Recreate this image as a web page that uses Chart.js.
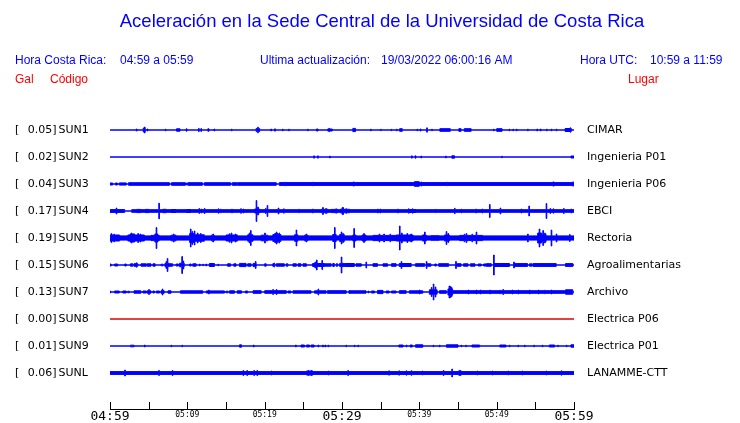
<!DOCTYPE html>
<html>
<head>
<meta charset="utf-8">
<script src="https://cdn.jsdelivr.net/npm/chart.js@4.4.0/dist/chart.umd.min.js"></script>
<style>
  html, body { margin: 0; padding: 0; background: #fff; }
  #wrap { width: 740px; height: 423px; }
</style>
</head>
<body>
<div id="wrap"><canvas id="sismo" width="740" height="423"></canvas></div>
<script>
// estaciones
const codes = ['SUN1', 'SUN2', 'SUN3', 'SUN4', 'SUN5', 'SUN6', 'SUN7', 'SUN8', 'SUN9', 'SUNL'];
const gal = [0.05, 0.02, 0.04, 0.17, 0.19, 0.15, 0.13, 0.00, 0.01, 0.06];
const places = ['CIMAR', 'Ingenieria P01', 'Ingenieria P06', 'EBCI', 'Rectoria',
  'Agroalimentarias', 'Archivo', 'Electrica P06', 'Electrica P01', 'LANAMME-CTT'];
const timeLabels = ['04:59', '05:09', '05:19', '05:29', '05:39', '05:49', '05:59'];

// envolvente de cada traza: [minuto, amplitud] o [inicio, fin, amplitud] (minutos desde 04:59)
const sun1 = [[3.4, 3.5, 1], [4.3, 4.55, 2], [4.45, 3], [4.8, 4.9, 1], [7.15, 0.8], [8.6, 9.05, 1.2],
  [9.85, 9.95, 1.2], [11.45, 1.6], [11.75, 1.4], [12.65, 12.8, 1.2], [13.45, 1], [15.7, 0.8],
  [18.9, 19.35, 1.6], [19.1, 2.8], [20.8, 1], [21.3, 1.2], [22.3, 0.8], [23.1, 0.8], [25.55, 0.8],
  [26.7, 26.9, 1], [28.15, 28.75, 1], [28.3, 1.6], [31.4, 31.75, 1.6], [33.7, 0.8], [35, 0.7],
  [36.35, 0.7], [37.05, 0.8], [37.45, 37.8, 1.3], [39.7, 0.8], [40.1, 40.2, 1], [40.95, 2.2],
  [41.6, 0.8], [42.65, 44.0, 1.3], [45.1, 45.4, 1.3], [45.8, 46.7, 1.3], [49.6, 0.8], [50.0, 50.7, 1.3],
  [51.6, 0.8], [52.1, 0.8], [52.55, 0.8], [54.0, 0.8], [55.2, 1], [55.65, 1], [56.45, 0.8],
  [57.05, 0.8], [57.7, 0.8], [58.85, 59.65, 1.5], [59.5, 2.2]];
const sun2 = [[26.35, 1.2], [26.85, 1.2], [28.4, 1], [39.0, 1.2], [39.45, 39.55, 1.2], [40.2, 1],
  [43.4, 1], [44.2, 44.55, 1.2], [50.65, 0.8], [59.6, 60, 1]];
const sun3 = [[0, 0.35, 1], [0.7, 0.95, 1], [1.2, 2.1, 1.1], [2.4, 7.7, 1.3], [7.95, 9.75, 1.3],
  [10.05, 11.95, 1.3], [12.2, 15.6, 1.3], [15.8, 21.5, 1.3], [21.9, 60, 1.4], [9.85, 1], [16.4, 1],
  [22.6, 1.8], [26.2, 1.8], [31.45, 31.6, 2], [39.35, 40.0, 2.3], [40.25, 40.35, 2], [43.55, 1.8],
  [57.25, 57.45, 2], [59.7, 60, 1.8]];
const sun4 = [[0, 1.9, 1.4], [0.8, 3], [2.8, 60, 1.3], [3.4, 4.0, 1.6], [4.5, 5.1, 1.6], [6.31, 7.8],
  [6.8, 7.3, 1.7], [7.9, 8.55, 1.5], [9.85, 10.5, 1.5], [11.5, 2.4], [11.8, 2], [12.2, 2.5],
  [14.0, 2.2], [14.3, 1.8], [15.6, 15.9, 1.6], [16.9, 2.3], [17.2, 2], [18.7, 19.35, 2], [18.9, 10.5],
  [19.1, 4], [20.32, 5.5], [20.1, 2.5], [21.75, 3], [22.45, 2.2], [24.4, 1.8], [26.2, 2],
  [27.3, 28.2, 1.7], [27.5, 3.5], [27.9, 2.5], [28.6, 29.5, 1.6], [29.2, 2.2], [30.1, 3.5],
  [29.7, 31.0, 1.7], [30.0, 3.3], [30.5, 2.3], [34.6, 2], [34.9, 2], [37.2, 2], [38.6, 2.2],
  [39.1, 2.2], [38.5, 39.6, 1.5], [42.1, 1.7], [44.55, 2.7], [45.4, 1.8], [47.3, 2], [48.1, 2],
  [49.07, 6.5], [50.45, 3], [53.17, 2], [54.16, 5], [56.4, 7.5], [56.9, 2.5], [57.3, 2.2],
  [58.65, 2.5], [59.6, 2]];
const sun5 = [[0, 60, 2.1], [0, 1.25, 3], [0.15, 4.5], [0.5, 3.8],
  [2.3, 4.45, 3], [2.6, 3.2, 4], [2.74, 5], [3.6, 4.5], [3.9, 4],
  [5.3, 6.4, 2.6], [5.97, 10.5], [5.8, 6.2, 4], [7.9, 8.55, 2.8], [8.2, 4],
  [10.3, 12.2, 3.2], [10.3, 10.9, 4.5], [10.4, 9], [10.6, 6.5], [10.9, 7], [11.3, 5], [11.7, 4.5],
  [13.1, 13.5, 2.8], [13.3, 4], [15.0, 16.5, 3], [15.67, 5], [15.4, 4.2], [16.2, 4],
  [17.8, 18.5, 3.2], [18.17, 7.5], [18.0, 5], [19.55, 20.4, 2.8], [20, 5],
  [21.05, 22.1, 3.4], [21.3, 21.7, 4.5], [21.5, 6], [21.85, 5], [23.85, 24.3, 3.2], [24.07, 8],
  [25.15, 25.6, 2.8], [25.35, 4], [28.8, 29.25, 3.5], [29.03, 10.5],
  [29.7, 30.3, 3.5], [29.9, 6], [30.1, 4.5], [31.4, 31.8, 3], [31.53, 9.5],
  [32.6, 33.1, 3], [32.8, 4.5], [34.0, 37.0, 2.6], [34.8, 4], [35.4, 4], [36.2, 3.8],
  [37.0, 39.2, 3], [37.43, 12], [37.7, 5], [38.4, 4.5], [38.9, 4], [40.4, 40.9, 3], [40.67, 6],
  [41.5, 42.6, 2.3], [43.25, 43.9, 3], [43.47, 6.5], [43.7, 4.5],
  [45.2, 48.2, 2.6], [46.06, 4.5], [47.35, 6], [45.8, 3.8], [46.8, 3.8], [54.0, 4],
  [55.3, 56.4, 3.5], [55.3, 55.8, 5], [55.5, 9], [55.97, 7.5], [56.2, 5],
  [57.05, 8], [57.7, 4], [59.42, 3.5]];
const sun6 = [[0, 0.15, 1], [0.6, 1.0, 1], [1.9, 2.1, 1], [2.65, 2.95, 1.2], [3.1, 3.6, 1.3], [3.4, 2.2],
  [4.0, 4.7, 1.2], [4.8, 5.3, 1.2], [5.55, 5.85, 1.2], [6.6, 6.85, 0.8], [7.1, 7.7, 1.6], [7.4, 6.5],
  [7.25, 3.5], [7.7, 8.1, 1.2], [8.55, 8.85, 1], [9.0, 9.6, 1.8], [9.29, 8.5], [9.45, 4],
  [10.3, 10.5, 1], [10.7, 11.15, 1.2], [11.57, 1], [12.0, 0.8], [12.4, 1], [12.85, 13.5, 1.5],
  [13.95, 0.8], [15.2, 15.6, 1.2], [16.0, 16.3, 1.2], [16.75, 17.6, 1.6], [17.8, 18.25, 1.2],
  [18.5, 18.9, 1.6], [18.8, 3.5], [20.0, 20.2, 1.2], [21.05, 21.3, 1.3], [21.2, 2],
  [21.5, 22.55, 1.2], [22.8, 23.0, 1.2], [23.65, 24.1, 1.2], [24.3, 24.7, 1.2], [24.95, 25.4, 1.2],
  [26.2, 27.75, 1.5], [26.7, 5], [26.5, 3], [27.4, 4.5], [27.75, 28.6, 1.2], [28.8, 29.0, 1.5],
  [29.25, 29.45, 1.2], [29.7, 30.3, 1.6], [29.9, 8], [30.3, 31.6, 1.5], [31.8, 32.5, 1.2], [33.1, 3],
  [34.0, 34.6, 1.3], [35.3, 35.9, 1.2], [36.4, 37.0, 1.3], [37.4, 38.95, 1.5], [37.65, 3.5],
  [39.5, 40.7, 1.3], [40.9, 3.5], [41.0, 41.5, 1.2], [42.0, 42.2, 1], [42.5, 43.8, 1.3], [44.7, 3.5],
  [44.7, 45.4, 1.3], [45.7, 46.3, 1.2], [46.6, 47.2, 1.2], [47.6, 48.0, 1], [48.3, 48.65, 1],
  [48.65, 49.3, 1.3], [49.6, 10], [49.7, 51.65, 1.5], [52.2, 3], [52.3, 54.0, 1.4],
  [54.25, 54.6, 1.2], [54.7, 57.7, 1.4], [58.9, 59.85, 1.4]];
const sun7 = [[0, 1], [0.6, 1.2, 1], [1.65, 2.1, 1], [2.3, 2.5, 0.8], [3.1, 4.0, 1.2], [4.25, 4.7, 1],
  [4.8, 5.3, 1.2], [5.0, 2.5], [5.55, 5.75, 1], [6.0, 6.4, 1], [6.6, 7.0, 1.3], [6.75, 3],
  [7.5, 7.9, 1.2], [9.1, 12.0, 1.2], [12.75, 2], [12.45, 14.8, 1.1], [15.0, 15.25, 0.8],
  [15.45, 16.1, 1.2], [16.45, 17.0, 1.2], [17.5, 17.8, 1], [18.5, 19.55, 1.3], [20.0, 22.8, 1.3],
  [21.05, 2.5], [21.5, 2.5], [23.0, 23.4, 1], [23.65, 26.0, 1.2], [26.45, 27.95, 1.2], [26.9, 3],
  [28.1, 30.55, 1.3], [30.9, 1.5], [31.0, 33.1, 1.2], [33.4, 1], [33.8, 34.2, 1], [34.6, 35.3, 1.6],
  [35.7, 36.1, 1], [36.4, 37.0, 1], [37.4, 38.3, 1.3], [38.7, 40.45, 1.2], [40.0, 2],
  [41.3, 42.3, 2.2], [41.55, 4.5], [41.8, 8], [42.05, 5], [42.6, 43.5, 1.3], [43.7, 44.3, 3],
  [43.85, 6], [44.0, 5.5], [44.15, 4.5], [44.3, 59.85, 1.3], [46.3, 2],
  [47.35, 2], [47.9, 2], [49.1, 2], [50.4, 1.8], [50.8, 2.5], [52.0, 2], [52.75, 2], [54.25, 2],
  [55.4, 2], [56.2, 1.8], [57.05, 2], [58.9, 59.85, 2.2]];
const sun8 = [];
const sun9 = [[2.65, 3.1, 0.8], [4.46, 1], [7.9, 0.8], [9.3, 0.8], [16.75, 17.0, 1.2], [18.55, 1],
  [24.0, 1], [24.7, 25.15, 1], [25.4, 25.8, 1], [26.0, 26.4, 1], [26.9, 1], [27.5, 1], [27.8, 1],
  [28.2, 0.8], [30.5, 0.8], [31.6, 0.8], [32.05, 0.8], [37.35, 37.9, 1], [38.3, 1], [38.8, 39.1, 1],
  [39.5, 40.45, 1.2], [41.8, 0.8], [42.6, 0.8], [43.5, 45.0, 1.2], [45.4, 0.8], [46.0, 0.8],
  [46.8, 47.8, 1], [50.4, 51.2, 1], [51.65, 0.8], [52.75, 0.8], [53.6, 0.8], [54.8, 0.8], [55.9, 0.8],
  [56.8, 57.5, 1], [57.9, 0.8], [59.0, 0.8], [59.6, 60, 1.2]];
const sunL = [[0, 60, 1.4], [1.9, 3], [6.3, 2.5], [8.05, 2.5], [17.2, 2.5], [17.7, 2.5], [18.6, 2.5],
  [19.0, 2.5], [20.85, 2], [25.4, 26.25, 2], [25.6, 2.5], [26.0, 2.5], [28.25, 2], [30.75, 2.5],
  [36.05, 2.2], [37.35, 2.2], [38.3, 2.2], [38.95, 2.3], [40.4, 2], [43.1, 2.5], [44.2, 4],
  [45.1, 45.4, 2.3], [47.45, 2], [49.4, 2], [51.45, 2], [53.3, 2], [56.4, 2], [58.35, 2.2]];
const traces = [sun1, sun2, sun3, sun4, sun5, sun6, sun7, sun8, sun9, sunL];

const SPACING = 27;   // separacion entre trazas (unidades del eje y)
const SPIKE = 0.08;   // duracion de un pico aislado, minutos
const AZUL = '#0000ff';
const ROJO = '#dd0000';

const baseline = i => -SPACING * (i + 1);

// envolvente escalonada: en cada corte se toma la mayor amplitud activa
function envelope(list) {
  const segs = list.map(e => e.length === 2 ? [e[0], e[0] + SPIKE, e[1]] : e);
  const cuts = [0, 60];
  segs.forEach(([s, e]) => cuts.push(s, e));
  const xs = [...new Set(cuts)].sort((a, b) => a - b);
  return xs.map(x => {
    const act = segs.filter(([s, e]) => s <= x && x < e).map(g => g[2]);
    return { x, a: act.length ? Math.max(...act) : 0 };
  });
}

const datasets = [];
traces.forEach((tr, i) => {
  const env = envelope(tr);
  const b = baseline(i);
  const color = gal[i] === 0 ? ROJO : AZUL;
  [1, -1].forEach(sign => {
    datasets.push({
      data: env.map(p => ({ x: p.x, y: b + sign * p.a })),
      stepped: true,
      borderColor: color,
      backgroundColor: color,
      borderWidth: 1,
      pointRadius: 0,
      fill: { value: b }
    });
  });
});

const textos = {
  id: 'textos',
  afterDraw(chart) {
    const ctx = chart.ctx;
    const xs = chart.scales.x, ys = chart.scales.y;
    ctx.save();
    ctx.textBaseline = 'middle';

    ctx.fillStyle = AZUL;
    ctx.textAlign = 'center';
    ctx.font = '18.5px "Liberation Sans"';
    ctx.fillText('Aceleración en la Sede Central de la Universidad de Costa Rica', 382, 22);

    ctx.textAlign = 'left';
    ctx.font = '12px "Liberation Sans"';
    ctx.fillText('Hora Costa Rica:', 15, 61);
    ctx.fillText('04:59 a 05:59', 120, 61);
    ctx.fillText('Ultima actualización:', 260, 61);
    ctx.fillText('19/03/2022 06:00:16 AM', 381, 61);
    ctx.fillText('Hora UTC:', 580, 61);
    ctx.fillText('10:59 a 11:59', 650, 61);

    ctx.fillStyle = '#ff0000';
    ctx.fillText('Gal', 15, 80);
    ctx.fillText('Código', 50, 80);
    ctx.fillText('Lugar', 628, 80);

    // etiquetas de cada traza
    ctx.fillStyle = '#000';
    ctx.font = '11px "DejaVu Sans"';
    codes.forEach((c, i) => {
      const py = ys.getPixelForValue(baseline(i)) + 0.5;
      ctx.textAlign = 'left';
      ctx.fillText('[', 15, py);
      ctx.fillText(c, 58.5, py);
      ctx.fillText(places[i], 587, py);
      ctx.textAlign = 'right';
      ctx.fillText(gal[i].toFixed(2) + ']', 56.5, py);
    });

    // marcas del eje de tiempo hacia arriba
    ctx.strokeStyle = '#000';
    ctx.lineWidth = 1;
    xs.ticks.forEach(t => {
      const px = Math.round(xs.getPixelForValue(t.value)) + 0.5;
      ctx.beginPath();
      ctx.moveTo(px, xs.top);
      ctx.lineTo(px, xs.top - 7);
      ctx.stroke();
    });
    ctx.restore();
  }
};

new Chart(document.getElementById('sismo'), {
  type: 'line',
  data: { datasets },
  plugins: [textos],
  options: {
    responsive: false,
    animation: false,
    devicePixelRatio: 1,
    layout: { padding: { left: 110, right: 166, top: 103, bottom: 0 } },
    plugins: { legend: { display: false }, tooltip: { enabled: false }, title: { display: false } },
    scales: {
      x: {
        type: 'linear',
        min: 0,
        max: 60,
        afterFit: s => { s.height = 14; },
        grid: { display: false, drawTicks: false, tickLength: 0 },
        border: { display: true, color: '#000', width: 1 },
        ticks: {
          stepSize: 5,
          autoSkip: false,
          maxRotation: 0,
          padding: 1,
          color: '#000',
          callback: v => v % 10 === 0 ? timeLabels[v / 10] : '',
          font: ctx => {
            const big = ctx.tick && ctx.tick.value % 30 === 0;
            return { family: 'DejaVu Sans Mono', size: big ? 13 : 8, lineHeight: big ? 1 : 1.35 };
          }
        }
      },
      y: {
        display: false,
        min: -306,
        max: 0
      }
    }
  }
});
</script>
</body>
</html>
